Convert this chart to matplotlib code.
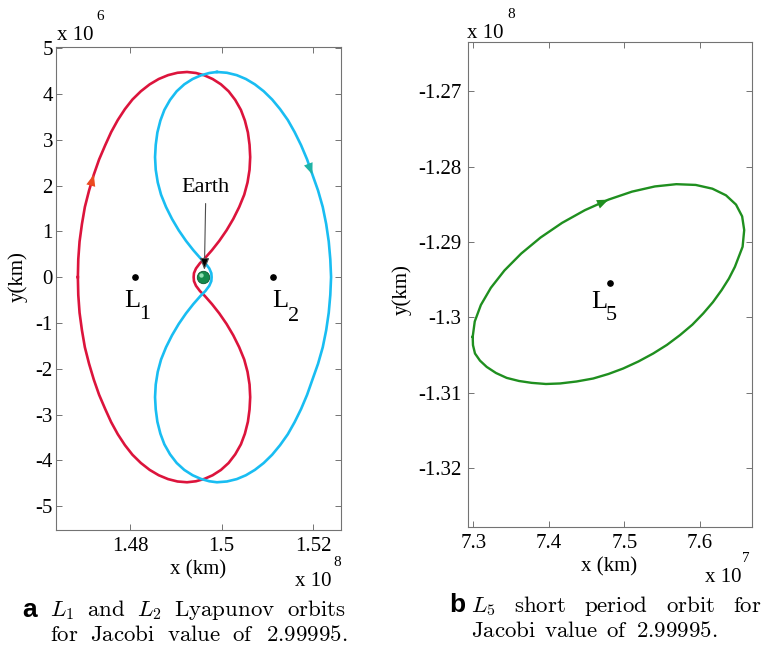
import matplotlib
matplotlib.use('Agg')
import matplotlib.pyplot as plt
from matplotlib import transforms

plt.rcParams['font.family'] = 'Liberation Serif'
plt.rcParams['mathtext.fontset'] = 'cm'
plt.rcParams['axes.unicode_minus'] = False

# L1 Lyapunov orbit (x in 1e8 km, y in 1e6 km)
red_x = [1.46858, 1.46867, 1.46895, 1.46947, 1.47011, 1.47103, 1.47207, 1.47322, 1.47455,
         1.47586, 1.47731, 1.47887, 1.48051, 1.48236, 1.48428, 1.48626, 1.48830, 1.49036,
         1.49244,
         1.49440, 1.49622, 1.49804, 1.49985, 1.50153, 1.50298, 1.50422, 1.50509, 1.50575,
         1.50611, 1.50625, 1.50611, 1.50567, 1.50495, 1.50385, 1.50255, 1.50109, 1.49949,
         1.49789, 1.49636, 1.49527, 1.49440, 1.49396, 1.49389,
         1.49396, 1.49440, 1.49527, 1.49636, 1.49789, 1.49949, 1.50109, 1.50255, 1.50385,
         1.50495, 1.50567, 1.50611, 1.50625, 1.50611, 1.50575, 1.50509, 1.50422, 1.50298,
         1.50153, 1.49985, 1.49804, 1.49622, 1.49440,
         1.49244, 1.49036, 1.48830, 1.48626, 1.48428, 1.48236, 1.48051, 1.47887, 1.47731,
         1.47586, 1.47455, 1.47322, 1.47207, 1.47103, 1.47011, 1.46947, 1.46895, 1.46867,
         1.46858]
red_y = [0.000, 0.390, 0.777, 1.159, 1.531, 1.892, 2.239, 2.568, 2.878,
         3.166, 3.430, 3.668, 3.877, 4.058, 4.208, 4.325, 4.409, 4.461,
         4.478,
         4.456, 4.405, 4.325, 4.209, 4.057, 3.868, 3.650, 3.418, 3.157,
         2.888, 2.620, 2.344, 2.068, 1.800, 1.531, 1.270, 1.023, 0.791,
         0.588, 0.414, 0.305, 0.189, 0.087, 0.000,
         -0.087, -0.189, -0.305, -0.414, -0.588, -0.791, -1.023, -1.270, -1.531,
         -1.800, -2.068, -2.344, -2.620, -2.888, -3.157, -3.418, -3.650, -3.868,
         -4.057, -4.209, -4.325, -4.405, -4.456,
         -4.478, -4.461, -4.409, -4.325, -4.208, -4.058, -3.877, -3.668, -3.430,
         -3.166, -2.878, -2.568, -2.239, -1.892, -1.531, -1.159, -0.777, -0.390,
         0.000]

# L2 Lyapunov orbit
cyan_x = [1.49898, 1.50116, 1.50331, 1.50531, 1.50727, 1.50920, 1.51105, 1.51278, 1.51447,
          1.51596, 1.51738, 1.51869, 1.51985, 1.52108, 1.52211, 1.52286, 1.52342, 1.52376,
          1.52393,
          1.52376, 1.52342, 1.52286, 1.52211, 1.52108, 1.51985, 1.51869, 1.51738, 1.51596,
          1.51447, 1.51278, 1.51105, 1.50920, 1.50727, 1.50531, 1.50331, 1.50116, 1.49898,
          1.49731, 1.49549, 1.49367, 1.49185, 1.49018, 1.48873, 1.48749, 1.48662, 1.48596,
          1.48560, 1.48545, 1.48560, 1.48604, 1.48676, 1.48785, 1.48916, 1.49062, 1.49222,
          1.49382, 1.49535, 1.49644, 1.49731, 1.49775,
          1.49782,
          1.49775, 1.49731, 1.49644, 1.49535, 1.49382, 1.49222, 1.49062, 1.48916, 1.48785,
          1.48676, 1.48604, 1.48560, 1.48545, 1.48560, 1.48596, 1.48662, 1.48749, 1.48873,
          1.49018, 1.49185, 1.49367, 1.49549, 1.49731,
          1.49898]
cyan_y = [4.478, 4.461, 4.409, 4.325, 4.208, 4.058, 3.877, 3.668, 3.430,
          3.166, 2.878, 2.568, 2.239, 1.892, 1.531, 1.159, 0.777, 0.390,
          0.000,
          -0.390, -0.777, -1.159, -1.531, -1.892, -2.239, -2.568, -2.878, -3.166,
          -3.430, -3.668, -3.877, -4.058, -4.208, -4.325, -4.409, -4.461, -4.478,
          -4.456, -4.405, -4.325, -4.209, -4.057, -3.868, -3.650, -3.418, -3.157,
          -2.888, -2.620, -2.344, -2.068, -1.800, -1.531, -1.270, -1.023, -0.791,
          -0.588, -0.414, -0.305, -0.189, -0.087,
          0.000,
          0.087, 0.189, 0.305, 0.414, 0.588, 0.791, 1.023, 1.270, 1.531,
          1.800, 2.068, 2.344, 2.620, 2.888, 3.157, 3.418, 3.650, 3.868,
          4.057, 4.209, 4.325, 4.405, 4.456,
          4.478]

# L5 short period orbit (x in 1e7 km, y in 1e8 km)
green_x = [7.29921, 7.30193, 7.31004, 7.32327, 7.34124, 7.36337, 7.38902, 7.41741, 7.44766,
           7.47884, 7.51001, 7.54026, 7.56865, 7.59430, 7.61643, 7.63440, 7.64763, 7.65574,
           7.65847, 7.65635, 7.64616, 7.63823, 7.62857, 7.61706, 7.60423, 7.58995, 7.57341,
           7.55622, 7.53810, 7.51852, 7.49841, 7.47884, 7.45873, 7.43651, 7.41468, 7.39616,
           7.37725, 7.36045, 7.34418, 7.33003, 7.31772, 7.30886, 7.30225, 7.29960, 7.29921]
green_y = [-1.30260, -1.30056, -1.29837, -1.29609, -1.29379, -1.29155, -1.28942, -1.28748, -1.28579,
           -1.28439, -1.28333, -1.28264, -1.28234, -1.28244, -1.28294, -1.28382, -1.28505, -1.28661,
           -1.28843, -1.29065, -1.29331, -1.29487, -1.29640, -1.29800, -1.29950, -1.30098, -1.30238,
           -1.30367, -1.30481, -1.30587, -1.30680, -1.30753, -1.30813, -1.30853, -1.30879, -1.30886,
           -1.30871, -1.30846, -1.30805, -1.30740, -1.30659, -1.30576, -1.30481, -1.30371, -1.30260]

earth_x, earth_y = 1.4960, 0.0
lib_x = [1.48109, 1.51113]
lib_y = [0.0, 0.0]
l5_x, l5_y = 7.4808, -1.29551

left_xticks = [1.48, 1.50, 1.52]
left_yticks = [-5, -4, -3, -2, -1, 0, 1, 2, 3, 4, 5]
right_xticks = [7.3, 7.4, 7.5, 7.6]
right_yticks = [-1.32, -1.31, -1.30, -1.29, -1.28, -1.27]

W, H = 764, 647
fig = plt.figure(figsize=(W / 100, H / 100), dpi=100)


def px_rect(l, t, r, b):
    return [l / W, 1 - b / H, (r - l) / W, (b - t) / H]


def ftext(x, y, s, **kw):
    return fig.text(x / W, 1 - y / H, s, **kw)


def style(ax, ypad):
    for s in ax.spines.values():
        s.set_color('0.45')
        s.set_linewidth(0.8)
    ax.tick_params(direction='in', length=4, width=0.7, color='0.45',
                   top=True, right=True, labelsize=15)
    ax.tick_params(axis='x', pad=5)
    ax.tick_params(axis='y', pad=ypad)


ax1 = fig.add_axes(px_rect(56, 46.7, 341, 530))
ax2 = fig.add_axes(px_rect(467.7, 41.7, 751.7, 526.7))

# ---- left: L1 / L2 Lyapunov orbits
ax1.plot(red_x, red_y, color='#dc143c', lw=1.9, solid_joinstyle='round')
ax1.plot(cyan_x, cyan_y, color='#19bdf2', lw=1.9, solid_joinstyle='round')

head = '-|>,head_length=0.55,head_width=0.22'
ax1.annotate('', xy=(red_x[6], red_y[6]), xytext=(red_x[4], red_y[4]),
             arrowprops=dict(arrowstyle=head, color='#ec4a20', lw=0,
                             mutation_scale=15, shrinkA=0, shrinkB=0))
ax1.annotate('', xy=(cyan_x[12], cyan_y[12]), xytext=(cyan_x[10], cyan_y[10]),
             arrowprops=dict(arrowstyle=head, color='#1fb3a6', lw=0,
                             mutation_scale=15, shrinkA=0, shrinkB=0))

ax1.plot(lib_x, lib_y, 'o', color='k', ms=3.8)
for lx, ly, sub, off_l, off_s in [(lib_x[0], lib_y[0], '1', (-2, -17.5), (7.2, -27)),
                                  (lib_x[1], lib_y[1], '2', (5.3, -17.5), (15, -28))]:
    ax1.annotate('L', (lx, ly), xytext=off_l, textcoords='offset points',
                 ha='center', va='center', fontsize=19)
    ax1.annotate(sub, (lx, ly), xytext=off_s, textcoords='offset points',
                 ha='center', va='center', fontsize=16)

# Earth
ax1.scatter([earth_x], [earth_y], s=80, color='#138a4c', edgecolor='#0b5a31',
            linewidth=0.6, zorder=5)
shine = transforms.offset_copy(ax1.transData, fig=fig, x=-1.3, y=1.3, units='points')
ax1.scatter([earth_x], [earth_y], s=10, color='#8fe0b3', linewidth=0,
            transform=shine, zorder=6)
ax1.annotate('Earth', xy=(earth_x + 0.00024, 0.16), xytext=(1.49657, 1.965),
             ha='center', va='center', fontsize=16,
             arrowprops=dict(arrowstyle='-|>,head_length=0.5,head_width=0.2',
                             mutation_scale=14, fc='k', ec='0.3', lw=0.8,
                             shrinkA=3, shrinkB=0))

ax1.set_xlim(1.4638, 1.5261)
ax1.set_ylim(-5.52, 5.03)
ax1.set_xticks(left_xticks)
ax1.set_xticklabels(['%g' % v for v in left_xticks])
ax1.set_yticks(left_yticks)
ax1.set_yticklabels(['%g' % v for v in left_yticks])
style(ax1, 2.2)

# ---- right: L5 orbit
ax2.plot(green_x, green_y, color='#1f8f1f', lw=1.7, solid_joinstyle='round')
ax2.annotate('', xy=(green_x[9], green_y[9]), xytext=(green_x[8], green_y[8]),
             arrowprops=dict(arrowstyle=head, color='#1f8f1f', lw=0,
                             mutation_scale=15, shrinkA=0, shrinkB=0))
ax2.plot([l5_x], [l5_y], 'o', color='k', ms=3.8)
ax2.annotate('L', (l5_x, l5_y), xytext=(-8, -13.2), textcoords='offset points',
             ha='center', va='center', fontsize=19)
ax2.annotate('5', (l5_x, l5_y), xytext=(1, -22.8), textcoords='offset points',
             ha='center', va='center', fontsize=16)

ax2.set_xlim(7.2926, 7.6684)
ax2.set_ylim(-1.3278, -1.26343)
ax2.set_xticks(right_xticks)
ax2.set_xticklabels(['%g' % v for v in right_xticks])
ax2.set_yticks(right_yticks)
ax2.set_yticklabels(['%g' % v for v in right_yticks])
style(ax2, 4.3)

# axis labels and exponent texts
ftext(198, 570, 'x (km)', fontsize=15, ha='center', va='center')
ftext(609, 567, 'x (km)', fontsize=15, ha='center', va='center')
ftext(18, 277, 'y(km)', fontsize=15, ha='center', va='center', rotation=90)
ftext(402, 290, 'y(km)', fontsize=15, ha='center', va='center', rotation=90)

ftext(57, 40, 'x 10', fontsize=15, va='baseline')
ftext(96, 20, '6', fontsize=11, va='baseline')
ftext(295, 586, 'x 10', fontsize=15, va='baseline')
ftext(333, 566, '8', fontsize=11, va='baseline')
ftext(467, 38, 'x 10', fontsize=15, va='baseline')
ftext(507, 18, '8', fontsize=11, va='baseline')
ftext(705, 582, 'x 10', fontsize=15, va='baseline')
ftext(742, 562, '7', fontsize=11, va='baseline')

# captions, justified word by word
renderer = fig.canvas.get_renderer()


def justify(words, x0, x1, y, size=16.5):
    texts = [ftext(0, y, w, fontsize=size, va='baseline') for w in words]
    widths = [t.get_window_extent(renderer).width for t in texts]
    gap = (x1 - x0 - sum(widths)) / (len(words) - 1)
    x = x0
    for t, w in zip(texts, widths):
        t.set_x(x / W)
        x += w + gap


ftext(22, 617, 'a', fontsize=19, fontweight='bold', family='Liberation Sans', va='baseline')
justify([r'$L_1$', r'$\mathrm{and}$', r'$L_2$', r'$\mathrm{Lyapunov}$', r'$\mathrm{orbits}$'],
        50, 346, 616)
justify([r'$\mathrm{for}$', r'$\mathrm{Jacobi}$', r'$\mathrm{value}$', r'$\mathrm{of}$',
         r'$\mathrm{2.99995.}$'], 50, 347, 641)

ftext(449, 612, 'b', fontsize=19, fontweight='bold', family='Liberation Sans', va='baseline')
justify([r'$L_5$', r'$\mathrm{short}$', r'$\mathrm{period}$', r'$\mathrm{orbit}$',
         r'$\mathrm{for}$'], 471, 762, 612)
justify([r'$\mathrm{Jacobi}$', r'$\mathrm{value}$', r'$\mathrm{of}$', r'$\mathrm{2.99995.}$'],
        471, 717, 637)

fig.savefig('out.png', dpi=100)
